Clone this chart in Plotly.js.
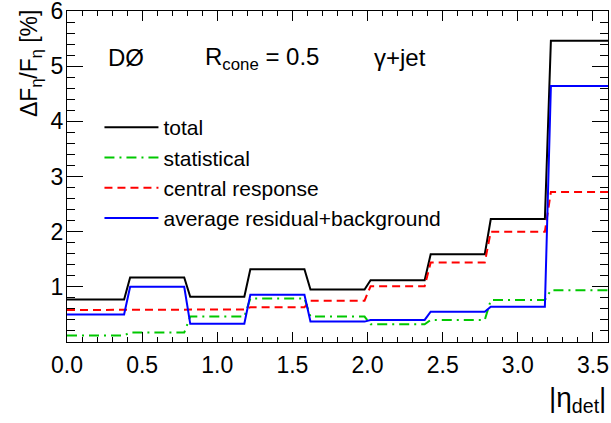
<!DOCTYPE html>
<html>
<head>
<meta charset="utf-8">
<script src="https://cdn.plot.ly/plotly-3.0.1.min.js"></script>
<style>html,body{margin:0;padding:0;background:#fff;}#chart{width:611px;height:423px;}</style>
</head>
<body>
<div id="chart"></div>
<script>
// bin edges in |eta_det|
const binEdges = [0.0, 0.4, 0.8, 1.2, 1.6, 2.0, 2.4, 2.8, 3.2, 3.6];
// relative uncertainties [%] per bin
const totalUnc    = [0.77, 1.17, 0.82, 1.32, 0.95, 1.12, 1.59, 2.23, 5.46];
const statUnc     = [0.12, 0.17, 0.46, 0.79, 0.46, 0.32, 0.40, 0.76, 0.94];
const centralUnc  = [0.58, 0.59, 0.59, 0.63, 0.75, 1.01, 1.44, 2.00, 2.72];
const residualUnc = [0.50, 1.00, 0.33, 0.855, 0.37, 0.40, 0.55, 0.64, 4.64];
const seriesNames = ["total", "statistical", "central response", "average residual+background"];
const yTickVals = [1, 2, 3, 4, 5, 6];

const ramp = 0.02;
function stepXY(edges, vals) {
  const x = [], y = [];
  for (let i = 0; i < vals.length; i++) {
    const a = edges[i], b = edges[i + 1];
    x.push(i === 0 ? a : a + ramp); y.push(vals[i]);
    x.push(i === vals.length - 1 ? b : b - ramp); y.push(vals[i]);
  }
  return {x, y};
}

const styles = [
  {color: "#000000", width: 2, dash: "solid"},
  {color: "#00c800", width: 2, dash: "10px,5px,2px,5px"},
  {color: "#ff0000", width: 2, dash: "8px,5px"},
  {color: "#0000ff", width: 2, dash: "solid"}
];
const allSeries = [totalUnc, statUnc, centralUnc, residualUnc];
const traces = allSeries.map((vals, i) => {
  const s = stepXY(binEdges, vals);
  return {x: s.x, y: s.y, type: "scatter", mode: "lines", name: seriesNames[i],
          line: {color: styles[i].color, width: styles[i].width, dash: styles[i].dash}, hoverinfo: "skip"};
});

const F = "Liberation Sans, Arial, Helvetica, sans-serif";
const layout = {
  width: 611, height: 423,
  margin: {l: 67, r: 3, t: 11, b: 81},
  paper_bgcolor: "#fff", plot_bgcolor: "#fff",
  font: {family: F, color: "#000", size: 22},
  showlegend: true,
  legend: {x: 0.06, y: 0.71, xanchor: "left", yanchor: "top", bgcolor: "rgba(0,0,0,0)",
           borderwidth: 0, font: {family: F, size: 21}, itemwidth: 54, tracegroupgap: 0},
  xaxis: {range: [0, 3.6], showgrid: false, zeroline: false, showline: true, linecolor: "#000", linewidth: 1,
          mirror: "allticks", ticks: "inside", ticklen: 10, tickwidth: 1, tickcolor: "#000",
          tick0: 0, dtick: 0.5, tickformat: ".1f", tickfont: {size: 23}, ticklabelstandoff: 2,
          minor: {dtick: 0.1, ticks: "inside", ticklen: 5, tickcolor: "#000", showgrid: false}},
  yaxis: {range: [0, 6], showgrid: false, zeroline: false, showline: true, linecolor: "#000", linewidth: 1,
          mirror: "allticks", ticks: "inside", ticklen: 16, tickwidth: 1, tickcolor: "#000",
          tickmode: "array", tickvals: yTickVals, tickfont: {size: 23},
          ticklabeloverflow: "allow", ticklabelstandoff: -2,
          minor: {tick0: 0, dtick: 0.2, ticks: "inside", ticklen: 8, tickcolor: "#000", showgrid: false}},
  annotations: [
    {text: "DØ", xref: "paper", yref: "paper", x: 0.072, y: 0.861, xanchor: "left", yanchor: "middle", showarrow: false, font: {size: 24}},
    {text: "R<sub>cone</sub> = 0.5", xref: "paper", yref: "paper", x: 0.252, y: 0.855, xanchor: "left", yanchor: "middle", showarrow: false, font: {size: 24}},
    {text: "γ+jet", xref: "paper", yref: "paper", x: 0.563, y: 0.861, xanchor: "left", yanchor: "middle", showarrow: false, font: {size: 24}},
    {text: "ΔF<sub>η</sub>/F<sub>η</sub> [%]", xref: "paper", yref: "paper", x: 0, y: 1, xshift: -53, yshift: 3,
     xanchor: "left", yanchor: "top", textangle: -90, showarrow: false, font: {size: 23}},
    {text: "|η<sub>det</sub>|", xref: "paper", yref: "paper", x: 1, y: 0, yshift: -38,
     xanchor: "right", yanchor: "top", showarrow: false, font: {size: 28}}
  ]
};
Plotly.newPlot("chart", traces, layout, {staticPlot: true});
</script>
</body>
</html>
